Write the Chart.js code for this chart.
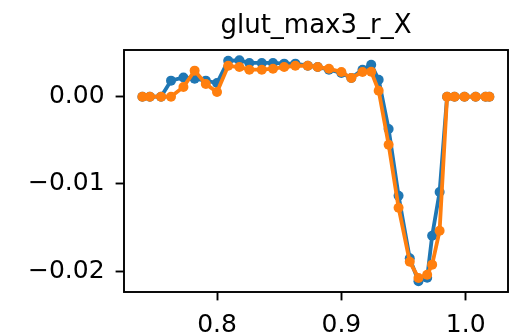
<!DOCTYPE html>
<html>
<head>
<meta charset="utf-8">
<script src="https://cdn.jsdelivr.net/npm/chart.js@4/dist/chart.umd.min.js"></script>
<style>
  html, body { margin: 0; padding: 0; background: #fff; }
  #wrap { width: 513px; height: 335px; }
</style>
</head>
<body>
<div id="wrap"><canvas id="lineChart" width="513" height="335"></canvas></div>
<script>
// x positions shared by both series
const xValues = [0.740, 0.746, 0.755, 0.763, 0.773, 0.782, 0.791, 0.800, 0.809, 0.818,
  0.826, 0.836, 0.845, 0.854, 0.863, 0.873, 0.881, 0.890, 0.900, 0.908,
  0.917, 0.924, 0.930, 0.938, 0.946, 0.955, 0.962, 0.969, 0.973, 0.979,
  0.985, 0.991, 0.999, 1.008, 1.016, 1.019];

const blueValues = [0, 0, 0, 0.00184, 0.00221, 0.00206, 0.00184, 0.00157, 0.00413, 0.00417,
  0.00387, 0.00387, 0.00387, 0.00379, 0.00379, 0.00355, 0.00340, 0.00310, 0.00272, 0.00214,
  0.00310, 0.00367, 0.00195, -0.00370, -0.01136, -0.01854, -0.02116, -0.02075, -0.01594, -0.01093,
  0, 0, 0, 0, 0, 0];

const orangeValues = [0, 0, 0, 0, 0.00111, 0.00299, 0.00146, 0.00054, 0.00355, 0.00340,
  0.00310, 0.00310, 0.00321, 0.00340, 0.00355, 0.00355, 0.00340, 0.00321, 0.00284, 0.00214,
  0.00284, 0.00287, 0.00068, -0.00551, -0.01273, -0.01893, -0.02079, -0.02042, -0.01926, -0.01537,
  0, 0, 0, 0, 0, 0];

const xTicks = [0.8, 0.9, 1.0];
const yTicks = [-0.02, -0.01, 0.0];

const titleText = "glut_max3_r_X";

function toPoints(ys) {
  return xValues.map((x, i) => ({ x: x, y: ys[i] }));
}

function fmt(v, digits) {
  const s = Math.abs(v).toFixed(digits);
  return v < -1e-9 ? "\u2212" + s : s;
}

// full box round the plot area
const frameBox = {
  id: "frameBox",
  afterDraw(chart) {
    const a = chart.chartArea;
    const c = chart.ctx;
    c.save();
    c.strokeStyle = "#000";
    c.lineWidth = 1.9;
    c.strokeRect(a.left, a.top, a.right - a.left, a.bottom - a.top);
    c.restore();
  }
};

const tickFont = { family: "DejaVu Sans", size: 25 };

var ctx = document.getElementById("lineChart").getContext("2d");

var chart = new Chart(ctx, {
  type: "scatter",
  data: {
    datasets: [
      {
        label: "blue",
        data: toPoints(blueValues),
        showLine: true,
        borderColor: "#1f77b4",
        backgroundColor: "#1f77b4",
        borderWidth: 3.8,
        pointRadius: 5,
        pointBorderWidth: 0,
        order: 1
      },
      {
        label: "orange",
        data: toPoints(orangeValues),
        showLine: true,
        borderColor: "#ff7f0e",
        backgroundColor: "#ff7f0e",
        borderWidth: 3.8,
        pointRadius: 5,
        pointBorderWidth: 0,
        order: 0
      }
    ]
  },
  options: {
    responsive: false,
    animation: false,
    layout: { padding: { left: 0, right: 1, top: 0, bottom: 0 } },
    plugins: {
      legend: { display: false },
      tooltip: { enabled: false },
      title: {
        display: true,
        text: titleText,
        fullSize: false,
        color: "#000",
        font: { family: "DejaVu Sans", size: 26, weight: "normal" },
        padding: { top: 11, bottom: 7.8 }
      }
    },
    scales: {
      x: {
        type: "linear",
        min: 0.7252,
        max: 1.034,
        afterBuildTicks: (scale) => { scale.ticks = xTicks.map(v => ({ value: v })); },
        afterFit: (scale) => { scale.height = 43; },
        border: { display: false },
        grid: {
          drawOnChartArea: false,
          drawTicks: true,
          tickLength: 8.4,
          tickWidth: 1.9,
          tickColor: "#000"
        },
        ticks: {
          color: "#000",
          font: tickFont,
          padding: 10,
          maxRotation: 0,
          callback: (v) => fmt(v, 1)
        }
      },
      y: {
        type: "linear",
        min: -0.022397,
        max: 0.005356,
        afterBuildTicks: (scale) => { scale.ticks = yTicks.map(v => ({ value: v })); },
        afterFit: (scale) => { scale.width = 124; },
        border: { display: false },
        grid: {
          drawOnChartArea: false,
          drawTicks: true,
          tickLength: 8.4,
          tickWidth: 1.9,
          tickColor: "#000"
        },
        ticks: {
          color: "#000",
          font: tickFont,
          padding: 11,
          callback: (v) => fmt(v, 2)
        }
      }
    }
  },
  plugins: [frameBox]
});
</script>
</body>
</html>
